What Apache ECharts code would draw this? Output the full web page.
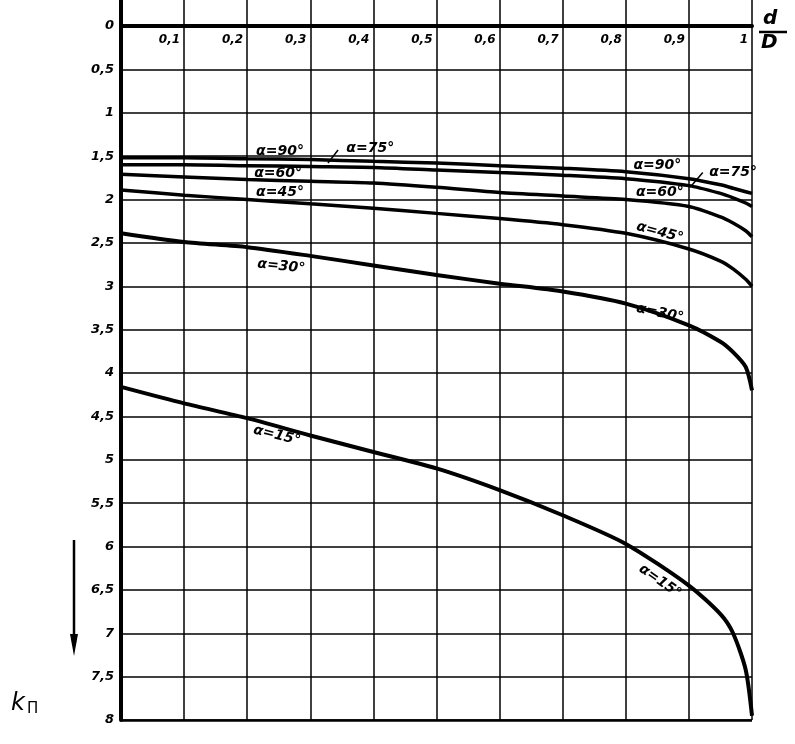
<!DOCTYPE html>
<html><head><meta charset="utf-8">
<script src="https://cdn.jsdelivr.net/npm/echarts@6/dist/echarts.min.js"></script>
<style>html,body{margin:0;padding:0;background:#fff}#c{width:795px;height:744px}</style>
</head><body><div id="c"></div>
<script>
// relative diameter d/D
const dD = [0, 0.1, 0.2, 0.3, 0.4, 0.5, 0.6, 0.7, 0.8, 0.9, 0.95, 0.97, 0.99, 1.0];
// coefficient k_П for each cone angle α
const k90 = [1.52, 1.52, 1.53, 1.54, 1.56, 1.58, 1.61, 1.64, 1.68, 1.76, 1.83, 1.87, 1.91, 1.93];
const k75 = [1.60, 1.60, 1.61, 1.62, 1.63, 1.66, 1.69, 1.72, 1.76, 1.84, 1.93, 1.98, 2.04, 2.08];
const k60 = [1.71, 1.74, 1.77, 1.79, 1.81, 1.86, 1.92, 1.96, 2.00, 2.08, 2.20, 2.27, 2.36, 2.43];
const k45 = [1.89, 1.95, 2.00, 2.05, 2.10, 2.16, 2.22, 2.29, 2.39, 2.57, 2.71, 2.80, 2.92, 3.00];
const k30 = [2.39, 2.49, 2.55, 2.65, 2.76, 2.87, 2.97, 3.06, 3.20, 3.45, 3.64, 3.76, 3.93, 4.20];
const k15 = [4.16, 4.35, 4.52, 4.72, 4.91, 5.10, 5.35, 5.64, 5.97, 6.45, 6.78, 7.00, 7.42, 7.95];
// tick labels
const xTickLabels = ['', '0,1', '0,2', '0,3', '0,4', '0,5', '0,6', '0,7', '0,8', '0,9', '1'];
const yTickLabels = ['0', '0,5', '1', '1,5', '2', '2,5', '3', '3,5', '4', '4,5', '5', '5,5', '6', '6,5', '7', '7,5', '8'];
const seriesNames = ['α=90°', 'α=75°', 'α=60°', 'α=45°', 'α=30°', 'α=15°'];

const FONT = 'DejaVu Sans';
const labStyle = {color: '#000', fontFamily: FONT, fontStyle: 'italic', fontWeight: 'bold', fontSize: 14};

function pts(ys) { return dD.map((x, i) => [x, ys[i]]); }
function mp(name, list) {
  return {
    symbol: 'circle', symbolSize: 0, silent: true,
    label: Object.assign({show: true, position: 'inside', formatter: name}, labStyle),
    data: list.map(p => ({coord: [p[0], p[1]], label: {rotate: p[2] || 0}}))
  };
}
function mkSeries(name, ys, width, labels, leaders) {
  const s = {
    name: name, type: 'line', data: pts(ys), smooth: 0.25,
    showSymbol: false, symbol: 'none', lineStyle: {color: '#000', width: width},
    xAxisIndex: 0, yAxisIndex: 0, z: 5,
    markPoint: mp(name, labels)
  };
  if (leaders) {
    s.markLine = {silent: true, symbol: 'none', label: {show: false},
      lineStyle: {color: '#000', width: 1.5, type: 'solid'},
      data: leaders.map(l => [{coord: l[0]}, {coord: l[1]}])};
  }
  return s;
}

const chart = echarts.init(document.getElementById('c'), null, {renderer: 'canvas'});
const option = {
  backgroundColor: '#fff',
  animation: false,
  grid: [
    {left: 121, right: 43, top: 26, bottom: 24},
    {left: 121, right: 43, top: 0, height: 26}
  ],
  xAxis: [
    {type: 'value', gridIndex: 0, min: 0, max: 1, interval: 0.1, position: 'top',
     axisLine: {show: true, onZero: false, lineStyle: {color: '#000', width: 4}},
     axisTick: {show: false},
     splitLine: {show: true, lineStyle: {color: '#000', width: 1.5}},
     axisLabel: Object.assign({inside: true, margin: 8, align: 'right', padding: [0, 4, 0, 0],
       formatter: (v, i) => xTickLabels[i] || ''}, labStyle, {fontSize: 12})},
    {type: 'value', gridIndex: 1, min: 0, max: 1, interval: 0.1,
     axisLine: {show: false}, axisTick: {show: false}, axisLabel: {show: false},
     splitLine: {show: true, lineStyle: {color: '#000', width: 1.5}}}
  ],
  yAxis: [
    {type: 'value', gridIndex: 0, min: 0, max: 8, interval: 0.5, inverse: true,
     axisLine: {show: true, onZero: false, lineStyle: {color: '#000', width: 4}},
     axisTick: {show: false},
     splitLine: {show: true, lineStyle: {color: '#000', width: 1.5}},
     axisLabel: Object.assign({margin: 7, formatter: (v, i) => yTickLabels[i] || ''}, labStyle, {fontSize: 13})},
    {type: 'value', gridIndex: 1, min: 0, max: 1,
     axisLine: {show: true, onZero: false, lineStyle: {color: '#000', width: 4}},
     axisTick: {show: false}, axisLabel: {show: false}, splitLine: {show: false}}
  ],
  series: [
    mkSeries(seriesNames[0], k90, 3.5, [[0.252, 1.44], [0.85, 1.61]]),
    mkSeries(seriesNames[1], k75, 3.5, [[0.395, 1.41], [0.97, 1.69]],
      [[[0.328, 1.58], [0.344, 1.43]], [[0.902, 1.86], [0.922, 1.69]]]),
    mkSeries(seriesNames[2], k60, 3.5, [[0.249, 1.70], [0.854, 1.92]]),
    mkSeries(seriesNames[3], k45, 3.5, [[0.252, 1.92], [0.854, 2.38, -15]]),
    mkSeries(seriesNames[4], k30, 4, [[0.254, 2.77, -6], [0.854, 3.31, -12]]),
    {type: 'line', data: [], xAxisIndex: 0, yAxisIndex: 0,
     markLine: {silent: true, symbol: 'none', label: {show: false},
       lineStyle: {color: '#000', width: 2.5, type: 'solid'}, data: [{yAxis: 8}]}},
    mkSeries(seriesNames[5], k15, 4, [[0.247, 4.72, -14], [0.854, 6.40, -35]])
  ],
  graphic: [
    {type: 'text', left: 763, top: 9, style: {text: 'd', font: 'italic bold 20px "DejaVu Sans"', fill: '#000'}},
    {type: 'line', shape: {x1: 759, y1: 32, x2: 787, y2: 32}, style: {stroke: '#000', lineWidth: 2.5}},
    {type: 'text', left: 761, top: 33, style: {text: 'D', font: 'italic bold 20px "DejaVu Sans"', fill: '#000'}},
    {type: 'text', left: 11, top: 692, style: {rich: {
      k: {font: 'italic 24px "DejaVu Sans"', fill: '#000'},
      s: {font: '15px "DejaVu Sans"', fill: '#000', verticalAlign: 'bottom', padding: [10, 0, 0, 2]}
    }, text: '{k|k}{s|П}'}},
    {type: 'line', shape: {x1: 74, y1: 540, x2: 74, y2: 640}, style: {stroke: '#000', lineWidth: 2.5}},
    {type: 'polygon', shape: {points: [[70, 634], [78, 634], [74, 656]]}, style: {fill: '#000'}}
  ]
};
chart.setOption(option);
</script></body></html>
